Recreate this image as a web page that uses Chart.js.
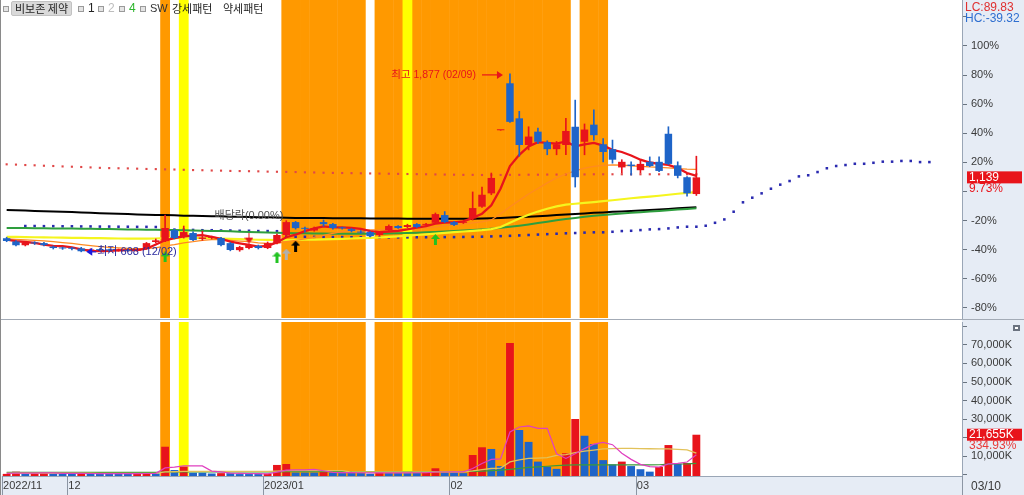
<!DOCTYPE html>
<html>
<head>
<meta charset="utf-8">
<script src="https://cdn.jsdelivr.net/npm/chart.js@4.4.0/dist/chart.umd.min.js"></script>
<style>
  html, body { margin: 0; padding: 0; background: #fff; }
  #wrap { position: relative; width: 1024px; height: 495px; overflow: hidden; }
  #cTop { position: absolute; left: 0; top: 0; }
  #cBot { position: absolute; left: 0; top: 320px; }
  #sep { position: absolute; left: 0; top: 319px; width: 1024px; height: 1px; background: #a3abb6; }
  #lb { position: absolute; left: 0; top: 0; width: 1px; height: 495px; background: #8a8a8a; }
  #hdr span { position: absolute; top: 1px; font: 12px 'Liberation Sans', 'Noto Sans CJK KR', sans-serif; line-height: 15px; color: #222; white-space: nowrap; }
  #hdr .cb { top: 6px; width: 4px; height: 4px; border: 1px solid #9a9a9a; background: #e4e4e4; }
  #hdr .nm { top: 1px; padding: 0 3px; background: #d9d9d9; border: 1px solid #c2c2c2; border-radius: 2px; font: 11px 'Noto Sans CJK KR', sans-serif; line-height: 13px; }
  #hdr .kr { font: 11px 'Noto Sans CJK KR', sans-serif; line-height: 15px; }
</style>
</head>
<body>
<div id="wrap">
  <canvas id="cTop" width="1024" height="320"></canvas>
  <canvas id="cBot" width="1024" height="175"></canvas>
  <div id="sep"></div>
  <div id="lb"></div>
  <div id="hdr">
    <span class="cb" style="left:3px"></span>
    <span class="nm" style="left:11px">비보존 제약</span>
    <span class="cb" style="left:78px"></span>
    <span style="left:88px">1</span>
    <span class="cb" style="left:98px"></span>
    <span style="left:108px;color:#bdbdbd">2</span>
    <span class="cb" style="left:119px"></span>
    <span style="left:129px;color:#2cb52c">4</span>
    <span class="cb" style="left:140px"></span>
    <span style="left:150px;color:#333;font-size:11px">SW</span>
    <span class="kr" style="left:172px">강세패턴</span>
    <span class="kr" style="left:223px">약세패턴</span>
  </div>
</div>
<script>
// trading days shown (2022/11/22 .. 2023/03/10)
const dates = [
  '11/22','11/23','11/24','11/25','11/28','11/29','11/30',
  '12/01','12/02','12/05','12/06','12/07','12/08','12/09','12/12','12/13','12/14','12/15','12/16','12/19','12/20','12/21','12/22','12/23','12/26','12/27','12/28','12/29',
  '01/02','01/03','01/04','01/05','01/06','01/09','01/10','01/11','01/12','01/13','01/16','01/17','01/18','01/19','01/20','01/25','01/26','01/27','01/30','01/31',
  '02/01','02/02','02/03','02/06','02/07','02/08','02/09','02/10','02/13','02/14','02/15','02/16','02/17','02/20','02/21','02/22','02/23','02/24','02/27','02/28',
  '03/02','03/03','03/06','03/07','03/08','03/09','03/10'
];
const futureSlots = 28;
const monthTicks = { '11/22': '2022/11', '12/01': '12', '01/02': '2023/01', '02/01': '02', '03/02': '03' };

// candles
const openP = [
  705,682,655,670,670,645,636,635,632,612, 625,622,618,622,615,630,678,684,763,713,
  742,700,708,706,670,620,635,650,635,670, 728,820,778,760,820,806,780,770,752,749,
  728,763,792,785,806,800,815,870,820,815, 845,930,1025,1475,1810,1560,1370,1465,1390,1340,
  1370,1500,1393,1515,1375,1340,1210,1230,1190,1250, 1250,1450,1225,1140,1020
];
const highP = [
  712,688,678,680,675,650,642,640,640,630, 632,628,628,626,630,675,700,870,770,792,
  750,755,720,712,675,648,663,656,678,735, 830,825,785,785,835,812,785,775,760,752,
  752,800,795,805,810,812,885,895,825,830, 1035,1070,1170,1475,1877,1610,1500,1490,1400,1395,
  1560,1690,1520,1620,1415,1405,1265,1250,1265,1285, 1285,1500,1250,1145,1290
];
const lowP = [
  680,650,650,660,650,628,625,622,608,610, 615,612,612,610,612,628,672,680,700,706,
  688,690,700,650,615,612,628,628,630,665, 720,770,749,755,790,770,770,750,740,715,
  720,760,775,780,780,795,810,815,795,810, 835,925,1015,1475,1530,1290,1335,1380,1300,1300,
  1300,1070,1300,1405,1250,1240,1170,1155,1170,1215, 1180,1230,1135,1005,1010
];
const closeP = [
  685,655,672,668,656,635,632,630,612,625, 620,618,622,615,625,670,690,778,706,749,
  692,710,715,656,621,642,656,635,670,728, 820,777,772,777,805,778,776,757,745,720,
  749,792,778,799,785,806,877,820,800,820, 920,1015,1135,1475,1535,1370,1430,1393,1340,1375,
  1470,1140,1480,1440,1320,1265,1250,1220,1235,1220, 1185,1235,1150,1025,1139
];

// moving average lines
const maRed = [
  695,685,678,672,660,650,648,640,625,615, 613,615,618,620,620,630,660,690,705,719,
  723,727,714,700,680,669,658,645,650,675, 712,730,755,775,790,782,782,779,772,755,
  749,753,757,768,781,792,809,817,818,825, 850,880,940,1060,1220,1300,1360,1390,1385,1380,
  1395,1360,1375,1385,1365,1335,1320,1295,1265,1245, 1235,1228,1205,1170,1150
];
const maOrange = [
  700,697,693,690,686,680,674,668,660,652, 645,640,636,632,630,632,636,650,660,672,
  680,690,695,695,690,685,680,672,668,668, 680,690,700,712,725,740,752,760,765,765,
  765,768,770,772,775,778,785,795,800,805, 815,822,835,880,930,975,1020,1060,1100,1135,
  1163,1185,1205,1218,1225,1228,1226,1222,1218,1214, 1210,1206,1202,1198,1196
];
const maYellow = [
  715,714,713,712,711,710,709,708,707,706, 705,704,703,702,702,702,703,705,706,707,
  707,706,705,703,700,698,696,694,693,692, 692,693,694,695,697,699,701,703,705,707,
  710,714,718,723,728,733,738,743,748,753, 758,763,770,785,815,845,872,895,915,932,
  945,951,957,963,969,976,983,990,996,1002, 1008,1015,1022,1028,1034
];
const maGreen = [
  778,777,777,776,776,775,775,774,773,772, 771,770,769,768,767,766,765,764,763,762,
  760,759,757,756,754,752,750,748,746,744, 742,741,740,739,738,737,737,736,736,736,
  737,738,740,742,744,747,750,753,756,760, 764,768,773,779,786,794,803,813,823,833,
  842,850,858,865,871,876,881,886,890,895, 900,905,910,914,918
];
const maBlack = [
  906,904,902,900,898,896,894,892,889,886, 883,881,879,877,875,873,871,870,868,866,
  865,864,862,861,859,858,857,855,854,852, 851,850,850,849,849,848,848,847,847,846,
  846,845,845,844,844,844,843,843,843,843, 844,845,847,850,853,856,859,862,866,870,
  874,878,882,886,889,893,896,900,903,907, 910,914,918,922,926
];
// dotted spans (blue one runs into the future slots)
const spanRed = [
  1232,1230,1227,1225,1222,1220,1217,1215,1213,1210, 1207,1205,1204,1203,1201,1199,1198,1196,1195,1193,
  1191,1190,1188,1187,1185,1184,1183,1182,1180,1179, 1178,1177,1175,1174,1172,1171,1170,1169,1168,1167,
  1166,1165,1164,1163,1162,1161,1160,1159,1158,1157, 1157,1156,1156,1156,1157,1157,1158,1158,1159,1159,
  1160,1160,1160,1161,1161,1161,1161,1161,1161,1161, 1161,1161,1161,1161,1161
];
const spanBlue = [
  null,null,792,792,791,791,790,790,789,789, 788,788,787,787,786,786,785,768,766,765,
  764,762,762,760,760,758,758,756,756,755, 716,715,715,714,714,713,713,712,712,712,
  711,711,711,711,712,712,712,713,713,714, 715,716,718,720,722,725,728,731,734,737,
  740,742,745,747,747,751,756,758,763,768, 770,775,782,787,787,794,815,839,894,961,
  994,1025,1058,1087,1113,1146,1154,1177,1204,1220, 1227,1236,1236,1243,1251,1251,1256,1256,1248,1248
];

// volume (K shares) and its lines
const volume = [
  600,1800,700,900,1500,800,700,700,800,700, 700,600,600,600,1000,1200,900,15200,2700,4500,
  1200,1200,800,1000,1000,500,500,500,700,5400, 5900,1300,1300,1300,1800,1300,1000,1000,1000,700,
  1800,1000,1000,1000,1000,1300,3600,1300,1300,1000, 10750,14900,14000,4800,71000,24200,17800,7200,4500,3300,
  11700,30100,21100,16600,8000,5700,7200,4800,3100,1800, 4300,16100,6000,6466,21655
];
const volMagenta = [
  900,1000,1000,1000,1100,1100,900,900,900,800, 700,700,700,700,700,800,900,3800,4200,4900,
  4900,4900,2100,1700,1000,900,800,700,600,1500, 2600,2700,2800,3000,2300,1400,1300,1300,1200,1100,
  1100,1100,1100,1100,1200,1200,1600,1600,1700,1700, 3500,6200,8400,8700,23100,25800,26400,25100,25100,11400,
  8900,11400,14200,16600,17500,16300,11700,8400,5700,4500, 4200,6000,6300,7000,10900
];
const volTan = [
  1000,1000,1000,1000,1000,1000,950,950,950,950, 900,900,900,900,900,900,900,1700,1750,1900,
  1900,1900,1900,1900,1900,1900,1900,1900,1900,2100, 2300,2300,2300,2300,2300,2300,2300,1600,1600,1600,
  1600,1600,1600,1600,1600,1600,1700,1700,1700,1700, 2200,2900,3500,3700,7000,8100,8900,9100,9300,10500,
  11000,12000,12800,13400,14000,14200,14300,14300,14200,14100, 14000,14000,13800,13500,11700
];
const volGreen = [
  1450,1450,1450,1440,1440,1440,1430,1430,1430,1420, 1420,1420,1410,1410,1410,1400,1400,1600,1620,1680,
  1690,1700,1700,1700,1700,1700,1690,1680,1670,1660, 1740,1830,1830,1830,1830,1840,1840,1830,1820,1810,
  1800,1810,1800,1790,1780,1770,1770,1800,1790,1790, 1900,2100,2400,2600,3000,3600,4100,4400,4700,5000,
  5300,5400,5400,5400,5400,5400,5400,5400,5400,5400, 5500,5800,5900,6000,6300
];

// highlighted days (pattern signals)
const orangeSpans = [['12/15','12/15'], ['01/04','01/16'], ['01/18','02/17'], ['02/21','02/23']];
const yellowDays = ['12/19', '01/25'];

// arrow markers
const greenArrowDays = ['12/15', '01/03', '01/30'];
const greenArrowAt = [572, 571, 696];
const grayArrowDays = ['01/04'];
const grayArrowAt = [592];
const blackArrowDays = ['01/05'];
const blackArrowAt = [649];
const exDivDays = ['12/28'];
const exDivAt = [706];

const pctBase = 1038;          // price that reads as 0% on the right axis
const lcText = 'LC:89.83';
const hcText = 'HC:-39.32';
const volPctText = '334.93%';

// ---------------------------------------------------------------
const sans = "'Liberation Sans Narrow', 'Liberation Sans', sans-serif";
const sansKr = "'Liberation Sans Narrow', 'Liberation Sans', 'Noto Sans CJK KR', sans-serif";
const RED = '#e8141b', BLUE = '#1e64c8', AXBG = '#e6ecf5', AXLINE = '#9aa6b6';
const allLabels = dates.concat(new Array(futureSlots).fill(''));
const yMin = 136, yMax = 2404;
const vMin = -540, vMax = 82260;

Chart.defaults.font.family = sans;
Chart.defaults.font.size = 11;
Chart.defaults.color = '#3a3a3a';

function bandData(spans, lo, hi) {
  let out = allLabels.map(() => null);
  spans.forEach(([a, b]) => {
    for (let i = dates.indexOf(a); i <= dates.indexOf(b); i++) out[i] = [lo, hi];
  });
  return out;
}
function byDay(days, vals) {
  let out = allLabels.map(() => null);
  days.forEach((d, k) => { out[dates.indexOf(d)] = vals[k]; });
  return out;
}
function arrowImg(color, down) {
  let c = document.createElement('canvas');
  c.width = 9; c.height = 11;
  let g = c.getContext('2d');
  g.fillStyle = color;
  g.beginPath();
  if (!down) {
    g.moveTo(4.5, 0); g.lineTo(9, 5); g.lineTo(0, 5);
    g.fill();
    g.fillRect(3, 5, 3, 6);
  } else {
    g.fillRect(4, 0, 1, 6);
    g.moveTo(0, 5); g.lineTo(9, 5); g.lineTo(4.5, 11);
    g.fill();
  }
  return c;
}
function line(ctx, x1, y1, x2, y2) {
  ctx.beginPath(); ctx.moveTo(x1, y1); ctx.lineTo(x2, y2); ctx.stroke();
}
const fmt = v => v.toLocaleString('en-US');

const upColor = closeP.map((c, i) => c >= openP[i] ? RED : BLUE);
const volColor = volume.map((v, i) => (i === 0 || v > volume[i - 1]) ? RED : BLUE);

function lineSet(data, color, width, order) {
  return { type: 'line', data: data, borderColor: color, borderWidth: width, pointRadius: 0,
           tension: 0, order: order, spanGaps: false };
}
function dotSet(data, color, r, order) {
  return { type: 'line', data: data, showLine: false, pointStyle: 'rect', pointRadius: r,
           pointBackgroundColor: color, pointBorderWidth: 0, order: order };
}
function markSet(data, img) {
  return { type: 'line', data: data, showLine: false, pointStyle: img, pointRadius: 5, order: 1 };
}

// axis backgrounds
const bgPlugin = {
  id: 'bg',
  beforeDraw(c, args, opts) {
    const { ctx, chartArea: a, width, height } = c;
    ctx.save();
    ctx.fillStyle = '#fff';
    ctx.fillRect(0, 0, width, height);
    ctx.fillStyle = AXBG;
    ctx.fillRect(a.right, 0, width - a.right, height);
    if (opts.dateRow) ctx.fillRect(0, a.bottom, width, height - a.bottom);
    ctx.restore();
  }
};

// texts in the price panel
const topText = {
  id: 'topText',
  afterDraw(c) {
    const { ctx, scales: { x, y }, chartArea: a, width } = c;
    ctx.save();
    ctx.textBaseline = 'middle';

    // highest
    let hi = Math.max(...highP), hiI = highP.indexOf(hi);
    let hx = x.getPixelForValue(hiI), hy = y.getPixelForValue(hi) + 1;
    ctx.font = "10.5px " + sansKr;
    ctx.fillStyle = RED; ctx.strokeStyle = RED; ctx.lineWidth = 1.2;
    ctx.textAlign = 'right';
    ctx.fillText('최고 ' + fmt(hi) + ' (' + dates[hiI] + ')', hx - 34, hy);
    line(ctx, hx - 28, hy, hx - 11, hy);
    ctx.beginPath(); ctx.moveTo(hx - 7, hy); ctx.lineTo(hx - 13, hy - 4); ctx.lineTo(hx - 13, hy + 4); ctx.fill();

    // lowest
    let lo = Math.min(...lowP), loI = lowP.indexOf(lo);
    let lx = x.getPixelForValue(loI), ly = y.getPixelForValue(lo);
    ctx.font = "11px " + sansKr;
    ctx.fillStyle = '#1a1ae0'; ctx.strokeStyle = '#1a1ae0';
    ctx.beginPath(); ctx.moveTo(lx + 5, ly); ctx.lineTo(lx + 11, ly - 4); ctx.lineTo(lx + 11, ly + 4); ctx.fill();
    line(ctx, lx + 10, ly, lx + 15, ly);
    ctx.fillStyle = '#2b2b9e'; ctx.textAlign = 'left';
    ctx.fillText('최저 ' + fmt(lo) + ' (' + dates[loI] + ')', lx + 16, ly);

    // ex-dividend tag
    let ex = dates.indexOf(exDivDays[0]);
    ctx.fillStyle = '#505050'; ctx.textAlign = 'center';
    ctx.fillText('배당락(0.00%)', x.getPixelForValue(ex), y.getPixelForValue(exDivAt[0]) - 22);

    // right axis: LC / HC and last price
    ctx.font = "12px " + sans;
    ctx.textAlign = 'left';
    ctx.fillStyle = '#e03030'; ctx.fillText(lcText, a.right + 3, 8);
    ctx.fillStyle = '#2f6fd0'; ctx.fillText(hcText, a.right + 3, 19);
    let last = closeP[closeP.length - 1], py = y.getPixelForValue(last);
    ctx.fillStyle = RED; ctx.fillRect(a.right + 5, py - 6, width - a.right - 7, 12);
    ctx.fillStyle = '#fff'; ctx.fillText(fmt(last), a.right + 7, py);
    ctx.fillStyle = RED; ctx.fillText(((last / pctBase - 1) * 100).toFixed(2) + '%', a.right + 7, py + 11);
    ctx.restore();
  }
};

// texts in the volume panel + date row marks
const botText = {
  id: 'botText',
  afterDraw(c) {
    const { ctx, scales: { x, y }, chartArea: a, width, height } = c;
    ctx.save();
    ctx.strokeStyle = '#8c96a4'; ctx.lineWidth = 1;
    let slot = x.getPixelForValue(1) - x.getPixelForValue(0);
    dates.forEach((d, i) => {
      if (monthTicks[d]) {
        let px = Math.round(x.getPixelForValue(i) - slot / 2) + 0.5;
        line(ctx, px, a.bottom, px, height);
      }
    });
    line(ctx, a.right + 0.5, a.bottom, a.right + 0.5, height);
    ctx.font = "12px " + sans;
    ctx.textBaseline = 'middle'; ctx.textAlign = 'left';
    ctx.fillStyle = '#3a3a3a';
    ctx.fillText(dates[dates.length - 1], a.right + 9, (a.bottom + height) / 2 + 1);

    let v = volume[volume.length - 1], vy = y.getPixelForValue(v);
    ctx.fillStyle = RED; ctx.fillRect(a.right + 5, vy - 6, width - a.right - 7, 12);
    ctx.fillStyle = '#fff'; ctx.fillText(fmt(v) + 'K', a.right + 7, vy);
    ctx.fillStyle = '#e83a3a'; ctx.fillText(volPctText, a.right + 7, vy + 11);

    // little panel button
    ctx.fillStyle = '#6b7380'; ctx.fillRect(width - 11, a.top + 3, 7, 6);
    ctx.fillStyle = '#fff'; ctx.fillRect(width - 9, a.top + 5, 3, 2);
    ctx.restore();
  }
};

// ------------------------- price panel -------------------------
const pctTicks = [];
for (let p = -80; p <= 120; p += 10) pctTicks.push(p);

new Chart(document.getElementById('cTop'), {
  type: 'bar',
  data: {
    labels: allLabels,
    datasets: [
      { data: bandData(orangeSpans, yMin, yMax), backgroundColor: '#ff9900', grouped: false,
        barPercentage: 1.05, categoryPercentage: 1, order: 100 },
      { data: bandData(yellowDays.map(d => [d, d]), yMin, yMax), backgroundColor: '#ffff00', grouped: false,
        barPercentage: 1.05, categoryPercentage: 1, order: 99 },
      dotSet(spanRed, '#e04848', 1.5, 60),
      dotSet(spanBlue, '#2a2ab0', 1.8, 60),
      lineSet(maBlack, '#000000', 2, 50),
      lineSet(maGreen, '#2e9e3e', 2, 49),
      lineSet(maYellow, '#f5f51e', 2.2, 48),
      lineSet(maOrange, '#ff8a20', 1.3, 47),
      lineSet(maRed, '#e8141b', 2.3, 46),
      { data: lowP.map((l, i) => [l, highP[i]]), backgroundColor: upColor, barThickness: 1,
        grouped: false, order: 10 },
      { data: openP.map((o, i) => [o, closeP[i]]), backgroundColor: upColor, barPercentage: 0.8,
        categoryPercentage: 1, grouped: false, minBarLength: 1, order: 9 },
      markSet(byDay(greenArrowDays, greenArrowAt), arrowImg('#22c322', false)),
      markSet(byDay(grayArrowDays, grayArrowAt), arrowImg('#b0b0b0', false)),
      markSet(byDay(blackArrowDays, blackArrowAt), arrowImg('#000000', false)),
      markSet(byDay(exDivDays, exDivAt), arrowImg('#e8141b', true))
    ]
  },
  options: {
    responsive: false, animation: false, events: [],
    layout: { autoPadding: false, padding: { left: 2, top: 0, right: 0, bottom: 2 } },
    plugins: { legend: { display: false }, tooltip: { enabled: false }, bg: {} },
    scales: {
      x: { display: false, offset: true, grid: { display: false } },
      y: {
        position: 'right', min: yMin, max: yMax,
        afterBuildTicks: s => { s.ticks = pctTicks.map(p => ({ value: pctBase * (1 + p / 100) })); },
        afterFit: s => { s.width = 62; s.paddingTop = 0; s.paddingBottom = 0; },
        ticks: {
          padding: 4,
          callback: v => {
            let p = Math.round((v / pctBase - 1) * 100);
            return (p % 20 === 0 && p !== 0 && p <= 100) ? p + '%' : '';
          }
        },
        grid: { drawOnChartArea: false, tickLength: 5, tickColor: '#6a7480' },
        border: { color: AXLINE }
      }
    }
  },
  plugins: [bgPlugin, topText]
});

// ------------------------- volume panel -------------------------
const volTicks = [];
for (let v = 0; v <= 80000; v += 5000) volTicks.push(v);

new Chart(document.getElementById('cBot'), {
  type: 'bar',
  data: {
    labels: allLabels,
    datasets: [
      { data: bandData(orangeSpans, vMin, vMax), backgroundColor: '#ff9900', grouped: false,
        barPercentage: 1.05, categoryPercentage: 1, order: 100 },
      { data: bandData(yellowDays.map(d => [d, d]), vMin, vMax), backgroundColor: '#ffff00', grouped: false,
        barPercentage: 1.05, categoryPercentage: 1, order: 99 },
      { data: volume, backgroundColor: volColor, base: vMin, barPercentage: 0.84,
        categoryPercentage: 1, grouped: false, order: 20 },
      lineSet(volGreen, '#3a9a3a', 1.2, 12),
      lineSet(volTan, '#e2c25a', 1.3, 11),
      lineSet(volMagenta, '#e040c0', 1.2, 10)
    ]
  },
  options: {
    responsive: false, animation: false, events: [],
    layout: { autoPadding: false, padding: { left: 2, top: 2, right: 0, bottom: 0 } },
    plugins: { legend: { display: false }, tooltip: { enabled: false }, bg: { dateRow: true } },
    scales: {
      x: {
        offset: true,
        afterFit: s => { s.height = 19; s.paddingLeft = 0; s.paddingRight = 0; },
        ticks: {
          autoSkip: false, maxRotation: 0, minRotation: 0, align: 'start', labelOffset: -3.6, padding: 3,
          callback: (v, i) => monthTicks[allLabels[i]] || ''
        },
        grid: { display: false, drawTicks: false, tickLength: 0 },
        border: { color: AXLINE }
      },
      y: {
        position: 'right', min: vMin, max: vMax,
        afterBuildTicks: s => { s.ticks = volTicks.map(v => ({ value: v })); },
        afterFit: s => { s.width = 62; s.paddingTop = 0; s.paddingBottom = 0; },
        ticks: {
          padding: 4,
          callback: v => (v % 10000 === 0 && v >= 10000 && v <= 70000 && v !== 20000) ? fmt(v) + 'K' : ''
        },
        grid: { drawOnChartArea: false, tickLength: 5, tickColor: '#6a7480' },
        border: { color: AXLINE }
      }
    }
  },
  plugins: [bgPlugin, botText]
});
</script>
</body>
</html>
